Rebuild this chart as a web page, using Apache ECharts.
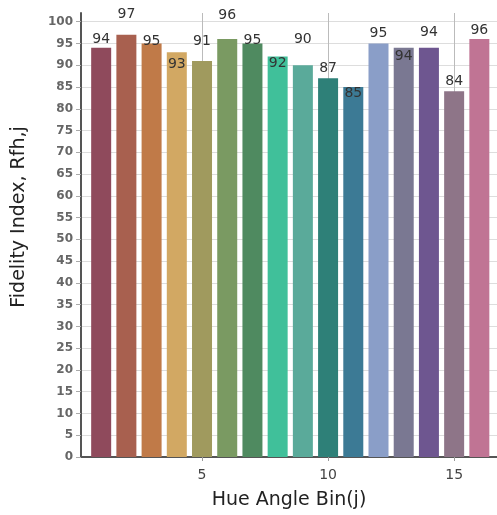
<!DOCTYPE html>
<html>
<head>
<meta charset="utf-8">
<script src="https://cdn.jsdelivr.net/npm/echarts@6/dist/echarts.min.js"></script>
<style>html,body{margin:0;padding:0;background:#fff;}#c{width:497px;height:515px;}</style>
</head>
<body>
<div id="c"></div>
<script>
var bins = [1,2,3,4,5,6,7,8,9,10,11,12,13,14,15,16];
var fidelity = [94,97,95,93,91,96,95,92,90,87,85,95,94,94,84,96];
var xTickLabels = [5,10,15];
var yTickLabels = [0,5,10,15,20,25,30,35,40,45,50,55,60,65,70,75,80,85,90,95,100];
var barColors = ['#8f4a5c','#a8604f','#c07a48','#d2a863','#a09a5e','#7a9a62','#4f8a60','#40c09a',
                 '#5aaa9a','#2e8078','#3c7a95','#8a9ec8','#7a7892','#6e5690','#8e7588','#c07494'];
// vertical label shifts (px) relative to bar top
var labelShift = [-1,-13,5,19,-13,-17,4,14,-19,-3,13,-3,16,-8,-3,-2];

var chart = echarts.init(document.getElementById('c'), null, {renderer:'canvas'});
var data = bins.map(function(b,i){
  return {value:[b, fidelity[i]], itemStyle:{color:barColors[i]},
          label:{offset:[0,labelShift[i]]}};
});
chart.setOption({
  animation:false,
  backgroundColor:'#fff',
  grid:{left:81, right:0, top:13, bottom:58, containLabel:false},
  xAxis:{
    type:'value', min:0.2, max:16.7,
    name:'Hue Angle Bin(j)', nameLocation:'middle', nameGap:34,
    nameTextStyle:{fontFamily:'DejaVu Sans', fontSize:19, color:'#222'},
    axisLine:{show:true, lineStyle:{color:'#555', width:2}},
    axisTick:{show:true, customValues:xTickLabels, length:4, lineStyle:{color:'#999'}},
    axisLabel:{customValues:xTickLabels, fontFamily:'DejaVu Sans', fontSize:14, color:'#444', margin:11},
    splitLine:{show:true, lineStyle:{color:'#bbb', width:1}}
  },
  yAxis:{
    type:'value', min:0, max:102,
    name:'Fidelity Index, Rfh,j', nameLocation:'middle', nameGap:52, nameRotate:90,
    nameTextStyle:{fontFamily:'DejaVu Sans', fontSize:19, color:'#222', padding:[0,0,0,36]},
    axisLine:{show:true, lineStyle:{color:'#555', width:2}},
    axisTick:{show:true, customValues:yTickLabels, length:5, lineStyle:{color:'#aaa'}},
    axisLabel:{customValues:yTickLabels, fontFamily:'DejaVu Sans', fontSize:12, fontWeight:'bold', color:'#666', margin:8},
    splitLine:{show:true, lineStyle:{color:'#ddd', width:1}}
  },
  series:[{
    type:'bar', barWidth:20, data:data,
    label:{show:true, position:'top', distance:0, fontFamily:'DejaVu Sans', fontSize:14, color:'#333',
      formatter:function(p){return p.value[1];}}
  }]
});
</script>
</body>
</html>
